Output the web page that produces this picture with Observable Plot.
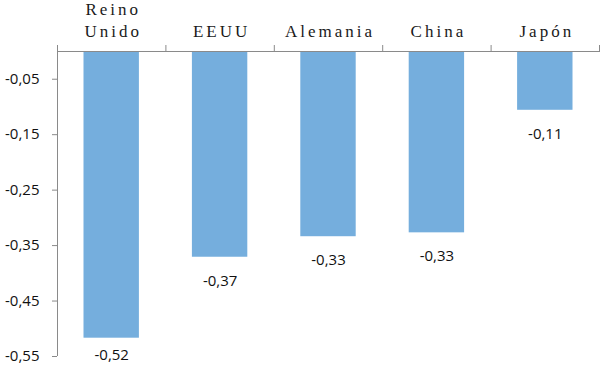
<!DOCTYPE html>
<html>
<head>
<meta charset="utf-8">
<script src="https://cdn.jsdelivr.net/npm/d3@7"></script>
<script src="https://cdn.jsdelivr.net/npm/@observablehq/plot@0.6"></script>
<style>
  html, body { margin: 0; padding: 0; background: #fff; }
  #chart svg { display: block; }
</style>
</head>
<body>
<div id="chart"></div>
<script>
const categories = ["Reino\nUnido", "EEUU", "Alemania", "China", "Japón"];
const values = [-0.517, -0.371, -0.334, -0.327, -0.106];
const yTicks = [-0.05, -0.15, -0.25, -0.35, -0.45, -0.55];
const boundaries = [0, 1, 2, 3, 4, 5];

const data = categories.map((c, i) => ({cat: c, i, value: values[i]}));
const fmt = v => v.toFixed(2).replace(".", ",");

const barColor = "#75aedd";
const axisColor = "#8a8a8a";

const plot = Plot.plot({
  width: 600,
  height: 366,
  marginLeft: 57,
  marginRight: 1,
  marginTop: 51,
  marginBottom: 10,
  style: {fontFamily: "'Open Sans', sans-serif", fontSize: "14px", color: "#111", background: "#fff"},
  x: {type: "linear", domain: [0, 5], axis: null},
  y: {domain: [-0.55, 0], axis: null},
  marks: [
    Plot.rectY(data, {x1: d => d.i, x2: d => d.i + 1, y1: 0, y2: "value", fill: barColor, insetLeft: 26.5, insetRight: 26.5}),
    Plot.axisX({anchor: "top", ticks: boundaries, tickSize: 7, tickFormat: () => "", stroke: axisColor, label: null}),
    Plot.axisY({anchor: "left", ticks: yTicks, tickSize: 5, tickPadding: 13, tickFormat: fmt, stroke: axisColor, fill: "#111", fontSize: 15, label: null}),
    Plot.ruleY([0], {stroke: axisColor}),
    Plot.ruleX([0], {y1: 0, y2: -0.55, stroke: axisColor}),
    Plot.text(data, {x: d => d.i + 0.5, y: 0, text: "cat", lineAnchor: "bottom", dy: -15, dx: 1.5, lineHeight: 1.25,
      fontFamily: "'Liberation Serif', serif", fontSize: 17, fill: "#1a1a1a"}),
    Plot.text(data, {x: d => d.i + 0.5, y: d => Math.max(d.value - 0.043, -0.547), text: d => fmt(d.value),
      fontSize: 15, fill: "#111"})
  ]
});
d3.select(plot).selectAll('g[font-family*="Liberation Serif"] text')
  .style("letter-spacing", "3px");
d3.select(plot).selectAll('g[font-family*="Liberation Serif"] tspan')
  .style("letter-spacing", "3px");
document.getElementById("chart").appendChild(plot);
</script>
</body>
</html>
